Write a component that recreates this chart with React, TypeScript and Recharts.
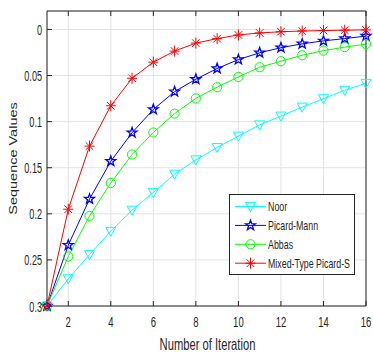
import React from 'react';
import { LineChart, Line, XAxis, YAxis, CartesianGrid } from 'recharts';

const iterations = [1, 2, 3, 4, 5, 6, 7, 8, 9, 10, 11, 12, 13, 14, 15, 16];
const noor = [0.3, 0.2705, 0.2443, 0.219, 0.196, 0.177, 0.157, 0.1415, 0.128, 0.1157, 0.1035, 0.094, 0.0843, 0.0752, 0.066, 0.0585];
const picardMann = [0.3, 0.234, 0.184, 0.143, 0.112, 0.0868, 0.0675, 0.054, 0.0424, 0.0327, 0.0253, 0.0198, 0.0156, 0.0124, 0.0099, 0.0072];
const abbas = [0.3, 0.2463, 0.2023, 0.1665, 0.1357, 0.1118, 0.0913, 0.0748, 0.0626, 0.0515, 0.041, 0.0345, 0.028, 0.023, 0.0192, 0.0159];
const mixedPicardS = [0.3, 0.195, 0.1266, 0.0828, 0.053, 0.0355, 0.0235, 0.0148, 0.01, 0.006, 0.0038, 0.0025, 0.0017, 0.0012, 0.0008, 0.0005];

const xTicks = [2, 4, 6, 8, 10, 12, 14, 16];
const xTickLabels = ['2', '4', '6', '8', '10', '12', '14', '16'];
const yTicks = [0, 0.05, 0.1, 0.15, 0.2, 0.25, 0.3];
const yTickLabels = ['0', '0.05', '0.1', '0.15', '0.2', '0.25', '0.3'];

const seriesKeys = ['noor', 'picardMann', 'abbas', 'mixedPicardS'];
const seriesNames = ['Noor', 'Picard-Mann', 'Abbas', 'Mixed-Type Picard-S'];
const seriesColors = ['#00FFFF', '#0000FF', '#00FF00', '#FF0000'];
const seriesShapes = ['tri', 'star', 'circle', 'ast'];

const data = iterations.map((it, i) => ({
  it,
  noor: noor[i],
  picardMann: picardMann[i],
  abbas: abbas[i],
  mixedPicardS: mixedPicardS[i],
}));

const axisColor = '#262626';
const gridColor = '#e3e3e3';
const FONT = '"Liberation Sans", Arial, Helvetica, sans-serif';

function Marker({ shape, cx, cy, color }: { shape: string; cx: number; cy: number; color: string }) {
  if (cx == null || cy == null) return null;
  if (shape === 'tri') {
    return (
      <polygon
        points={`${cx - 5},${cy - 4} ${cx + 5},${cy - 4} ${cx},${cy + 5}`}
        fill="none"
        stroke={color}
        strokeWidth={1}
      />
    );
  }
  if (shape === 'star') {
    const pts: string[] = [];
    for (let k = 0; k < 10; k++) {
      const r = k % 2 === 0 ? 5.2 : 2.1;
      const a = -Math.PI / 2 + (k * Math.PI) / 5;
      pts.push(`${cx + r * Math.cos(a)},${cy + r * Math.sin(a)}`);
    }
    return <polygon points={pts.join(' ')} fill="none" stroke={color} strokeWidth={1.3} />;
  }
  if (shape === 'circle') {
    return <circle cx={cx} cy={cy} r={4.6} fill="none" stroke={color} strokeWidth={1} />;
  }
  const d = 3.8;
  return (
    <g stroke={color} strokeWidth={1}>
      <line x1={cx} y1={cy - 5.5} x2={cx} y2={cy + 5.5} />
      <line x1={cx - 5} y1={cy} x2={cx + 5} y2={cy} />
      <line x1={cx - d} y1={cy - d} x2={cx + d} y2={cy + d} />
      <line x1={cx - d} y1={cy + d} x2={cx + d} y2={cy - d} />
    </g>
  );
}

const BottomTick = (p: any) => {
  const { x, y, payload } = p;
  const label = xTickLabels[xTicks.indexOf(payload.value)];
  return (
    <g>
      <line x1={x} y1={y} x2={x} y2={y - 5} stroke={axisColor} strokeWidth={1} />
      <text
        transform={`translate(${x},${y + 21}) scale(0.68,1)`}
        textAnchor="middle"
        fontSize={14}
        fontFamily={FONT}
        fill={axisColor}
      >
        {label}
      </text>
    </g>
  );
};

const TopTick = (p: any) => {
  const { x, y } = p;
  return <line x1={x} y1={y} x2={x} y2={y + 5} stroke={axisColor} strokeWidth={1} />;
};

const LeftTick = (p: any) => {
  const { x, y, payload } = p;
  const label = yTickLabels[yTicks.indexOf(payload.value)];
  return (
    <g>
      <line x1={x} y1={y} x2={x + 5} y2={y} stroke={axisColor} strokeWidth={1} />
      <text
        transform={`translate(${x - 5},${y + 5.5}) scale(0.65,1)`}
        textAnchor="end"
        fontSize={14}
        fontFamily={FONT}
        fill={axisColor}
      >
        {label}
      </text>
    </g>
  );
};

const RightTick = (p: any) => {
  const { x, y } = p;
  return <line x1={x} y1={y} x2={x - 5} y2={y} stroke={axisColor} strokeWidth={1} />;
};

function LegendBox() {
  const rowY = [12.5, 31.4, 50.3, 69.2];
  return (
    <svg width={127} height={82} style={{ position: 'absolute', left: 229, top: 194 }}>
      <rect x={0.5} y={0.5} width={125} height={80} fill="#ffffff" stroke={axisColor} strokeWidth={1} />
      {seriesNames.map((name, i) => (
        <g key={name}>
          <line x1={6} y1={rowY[i]} x2={37} y2={rowY[i]} stroke={seriesColors[i]} strokeWidth={1} />
          <Marker shape={seriesShapes[i]} cx={21.5} cy={rowY[i]} color={seriesColors[i]} />
          <text
            transform={`translate(39,${rowY[i] + 4.5}) scale(0.68,1)`}
            fontSize={13}
            fontFamily={FONT}
            fill={axisColor}
          >
            {name}
          </text>
        </g>
      ))}
    </svg>
  );
}

export default function App() {
  return (
    <div style={{ position: 'absolute', left: 0, top: 0, width: 373, height: 352, background: '#ffffff' }}>
      <LineChart width={373} height={352} data={data} margin={{ top: 0, right: 0, bottom: 0, left: 0 }}>
        <CartesianGrid stroke={gridColor} strokeWidth={1} />
        <XAxis
          dataKey="it"
          type="number"
          domain={[1, 16]}
          ticks={xTicks}
          height={46}
          tickSize={0}
          tickMargin={0}
          tickLine={false}
          axisLine={{ stroke: axisColor, strokeWidth: 1 }}
          tick={BottomTick}
          interval={0}
          label={{
            content: (lp: any) => {
              const vb = lp.viewBox || {};
              return (
                <text
                  transform={`translate(${vb.x + vb.width / 2 + 1},${vb.y + 44}) scale(0.7,1)`}
                  textAnchor="middle"
                  fontSize={16}
                  fontFamily={FONT}
                  fill={axisColor}
                >
                  Number of Iteration
                </text>
              );
            },
          }}
        />
        <XAxis
          xAxisId="top"
          orientation="top"
          dataKey="it"
          type="number"
          domain={[1, 16]}
          ticks={xTicks}
          height={11}
          tickSize={0}
          tickMargin={0}
          tickLine={false}
          axisLine={{ stroke: axisColor, strokeWidth: 1 }}
          tick={TopTick}
          interval={0}
        />
        <YAxis
          type="number"
          reversed
          domain={[-0.02, 0.3]}
          ticks={yTicks}
          width={47}
          tickSize={0}
          tickMargin={0}
          tickLine={false}
          axisLine={{ stroke: axisColor, strokeWidth: 1 }}
          tick={LeftTick}
          interval={0}
          label={{
            content: (lp: any) => {
              const vb = lp.viewBox || {};
              return (
                <text
                  transform={`translate(${vb.x + 14},${vb.y + vb.height / 2}) scale(0.72,1) rotate(-90)`}
                  textAnchor="middle"
                  dominantBaseline="central"
                  fontSize={14.5}
                  fontFamily={FONT}
                  fill={axisColor}
                >
                  Sequence Values
                </text>
              );
            },
          }}
        />
        <YAxis
          yAxisId="right"
          orientation="right"
          type="number"
          reversed
          domain={[-0.02, 0.3]}
          ticks={yTicks}
          width={7}
          tickSize={0}
          tickMargin={0}
          tickLine={false}
          axisLine={{ stroke: axisColor, strokeWidth: 1 }}
          tick={RightTick}
          interval={0}
        />
        {seriesKeys.map((k, i) => (
          <Line
            key={k}
            dataKey={k}
            name={seriesNames[i]}
            type="linear"
            stroke={seriesColors[i]}
            strokeWidth={1}
            isAnimationActive={false}
            activeDot={false}
            dot={(dp: any) => (
              <g key={`${k}-${dp.index}`}>
                <Marker shape={seriesShapes[i]} cx={dp.cx} cy={dp.cy} color={seriesColors[i]} />
              </g>
            )}
          />
        ))}
      </LineChart>
      <LegendBox />
    </div>
  );
}
